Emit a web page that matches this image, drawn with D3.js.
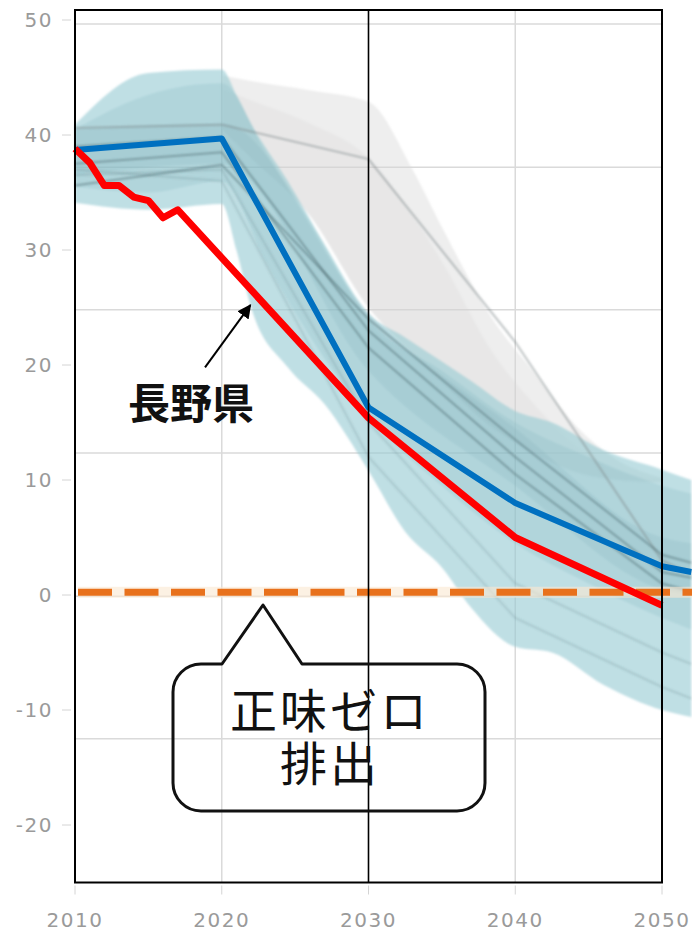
<!DOCTYPE html>
<html>
<head>
<meta charset="utf-8">
<style>
  html, body { margin: 0; padding: 0; background: #fff; }
  svg { display: block; }
  .tick-label { font-family: "DejaVu Sans", sans-serif; font-size: 20px; fill: #9a9a9a; letter-spacing: 1.5px; }
  .note { font-family: "Noto Sans CJK JP", sans-serif; fill: #111; }
  .bubble-text { font-family: "Liberation Sans", "Noto Sans CJK JP", sans-serif; fill: #111; }
</style>
</head>
<body>
<svg id="chart" width="692" height="931"></svg>
<script src="https://d3js.org/d3.v7.min.js"></script>
<script>
// axis labels
const yTicks = [50, 40, 30, 20, 10, 0, -10, -20]
const xTicks = [2010, 2020, 2030, 2040, 2050]
// grid of the underlying chart (does not line up with the labels)
const gridY = [49.65, 37.2, 24.8, 12.35, -0.1, -12.5]
const gridX = [2020, 2040]

// 長野県 (red)
const naganoYears = [2010, 2011, 2012, 2013, 2014, 2015, 2016, 2017, 2030, 2040, 2050]
const naganoValues = [38.8, 37.6, 35.6, 35.6, 34.6, 34.3, 32.8, 33.5, 15.4, 5.0, -0.9]

// blue pathway
const blueYears = [2010, 2020, 2030, 2040, 2050, 2052]
const blueValues = [38.7, 39.7, 16.3, 8.0, 2.5, 2.0]

// teal scenario range, outer envelope
const tealYears = [2010, 2015, 2020, 2021, 2022, 2024.5, 2027, 2030, 2032.5, 2035, 2037, 2040, 2042.5, 2046, 2050, 2052]
const tealHi = [40.9, 45.4, 45.7, 43.5, 41.0, 36.0, 30.5, 24.5, 22.4, 20.3, 18.6, 16.0, 15.0, 12.6, 10.9, 10.0]
const tealLo = [34.1, 33.5, 34.0, 30.0, 25.0, 19.8, 16.6, 10.8, 5.5, 2.4, -1.1, -4.5, -5.0, -7.8, -10.0, -10.6]

// teal inner ranges
const coreYears = [2010, 2015, 2020, 2023, 2026, 2030, 2035, 2040, 2045, 2050, 2052]
const coreHi = [40.5, 43.5, 44.5, 38.5, 32.5, 24.0, 19.5, 15.0, 12.0, 9.5, 8.8]
const coreLo = [35.5, 35.0, 36.0, 29.0, 22.5, 15.5, 9.5, 4.5, 1.0, -2.0, -3.0]
const deepYears = [2010, 2020, 2030, 2040, 2050, 2052]
const deepHi = [40.5, 41.0, 24.5, 14.5, 5.0, 4.5]
const deepLo = [36.5, 37.5, 19.5, 9.5, 0.5, 0.0]

// grey scenario range
const greyYears = [2020, 2022, 2026, 2030, 2033, 2035, 2038.5, 2041, 2044.6, 2047, 2050]
const greyHi = [45.2, 44.7, 43.9, 42.9, 37.0, 32.0, 23.9, 19.8, 14.1, 11.7, 10.2]
const greyMid = [44.0, 43.0, 41.0, 38.0, 33.0, 29.0, 21.0, 17.0, 12.5, 10.8, 10.0]
const greyLo = [40.5, 38.0, 33.0, 25.0, 21.0, 18.5, 14.5, 12.5, 10.5, 10.0, 9.8]

// individual scenario lines
const scenYears = [2010, 2020, 2030, 2040, 2050, 2052]
const scenA = [40.6, 40.9, 37.9, 22.0, 3.0, 1.8]
const scenB = [35.6, 37.4, 24.0, 13.5, 3.5, 2.8]
const scenC = [39.0, 39.8, 23.0, 12.0, 2.0, 1.5]
const scenD = [37.5, 38.5, 21.5, 10.5, 1.0, 0.3]
const scenE = [36.5, 37.0, 15.0, 1.0, -5.0, -6.0]
const scenF = [37.0, 36.0, 12.0, -2.0, -8.0, -9.0]

const netZero = 0.25

const svg = d3.select('#chart')
const x = d3.scaleLinear().domain([2010, 2050]).range([75, 662])
const y = d3.scaleLinear().domain([-25, 50]).range([882.5, 20])
const frameTop = 10, frameBottom = y(-25)

const defs = svg.append('defs')
defs.append('filter').attr('id', 'soft')
  .append('feGaussianBlur').attr('stdDeviation', 1.1)
defs.append('marker').attr('id', 'head')
  .attr('viewBox', '0 0 10 10').attr('refX', 9).attr('refY', 5)
  .attr('markerWidth', 7).attr('markerHeight', 7).attr('markerUnits', 'strokeWidth')
  .attr('orient', 'auto')
  .append('path').attr('d', 'M0,0 L10,5 L0,10 Z').attr('fill', '#000')

// gridlines
svg.append('g').selectAll('line').data(gridY).enter().append('line')
  .attr('x1', x(2010)).attr('x2', x(2050))
  .attr('y1', d => y(d)).attr('y2', d => y(d))
  .attr('stroke', '#dadada').attr('stroke-width', 1.5)
svg.append('g').selectAll('line').data(gridX).enter().append('line')
  .attr('x1', d => x(d)).attr('x2', d => x(d))
  .attr('y1', frameTop).attr('y2', frameBottom)
  .attr('stroke', '#dadada').attr('stroke-width', 1.5)

// ticks + labels
svg.append('g').selectAll('line').data(yTicks).enter().append('line')
  .attr('x1', 62).attr('x2', 71).attr('y1', d => y(d)).attr('y2', d => y(d))
  .attr('stroke', '#d4d4d4').attr('stroke-width', 1)
svg.append('g').selectAll('text').data(yTicks).enter().append('text')
  .attr('class', 'tick-label')
  .attr('x', 53).attr('y', d => y(d)).attr('dy', '0.36em')
  .attr('text-anchor', 'end')
  .text(d => d)
svg.append('g').selectAll('line').data(xTicks).enter().append('line')
  .attr('x1', d => x(d)).attr('x2', d => x(d)).attr('y1', frameBottom + 3).attr('y2', frameBottom + 12)
  .attr('stroke', '#d4d4d4').attr('stroke-width', 1)
svg.append('g').selectAll('text').data(xTicks).enter().append('text')
  .attr('class', 'tick-label')
  .attr('x', d => x(d)).attr('y', 927)
  .attr('text-anchor', 'middle')
  .text(d => d)

// bands
const zip = (ys, hi, lo) => ys.map((yr, i) => ({ yr, hi: hi[i], lo: lo[i] }))
const band = d3.area().x(d => x(d.yr)).y0(d => y(d.lo)).y1(d => y(d.hi)).curve(d3.curveMonotoneX)
const bands = svg.append('g').attr('filter', 'url(#soft)')
bands.append('path').attr('d', band(zip(greyYears, greyHi, greyLo)))
  .attr('fill', '#d6d6d6').attr('opacity', 0.42)
bands.append('path').attr('d', band(zip(greyYears, greyMid, greyLo)))
  .attr('fill', '#d0cfcf').attr('opacity', 0.22)
bands.append('path').attr('d', band(zip(tealYears, tealHi, tealLo)))
  .attr('fill', '#94c9d2').attr('opacity', 0.6)
bands.append('path').attr('d', band(zip(coreYears, coreHi, coreLo)))
  .attr('fill', '#78aeb9').attr('opacity', 0.2)
bands.append('path').attr('d', band(zip(deepYears, deepHi, deepLo)))
  .attr('fill', '#6a9faa').attr('opacity', 0.14)

// scenario lines
const line = d3.line().x(d => x(d[0])).y(d => y(d[1]))
const scen = [scenA, scenB, scenC, scenD, scenE, scenF]
svg.append('g').selectAll('path').data(scen).enter().append('path')
  .attr('d', d => line(scenYears.map((yr, i) => [yr, d[i]])))
  .attr('fill', 'none')
  .attr('stroke', (d, i) => i === 0 ? '#80898b' : '#4f6d73')
  .attr('stroke-opacity', (d, i) => i >= 4 ? 0.2 : 0.5)
  .attr('stroke-width', 2)
  .attr('filter', 'url(#soft)')

// net zero dashed line
svg.append('line')
  .attr('x1', 78).attr('x2', 692).attr('y1', y(netZero)).attr('y2', y(netZero))
  .attr('stroke', '#fbe8d2').attr('stroke-width', 11).attr('opacity', 0.6)
svg.append('line')
  .attr('x1', 78).attr('x2', 692).attr('y1', y(netZero)).attr('y2', y(netZero))
  .attr('stroke', '#e8711c').attr('stroke-width', 7)
  .attr('stroke-dasharray', '34 12.5')

// blue and red
svg.append('path')
  .attr('d', line(blueYears.map((yr, i) => [yr, blueValues[i]])))
  .attr('fill', 'none').attr('stroke', '#0070c0').attr('stroke-width', 6)
  .attr('stroke-linejoin', 'round')
svg.append('path')
  .attr('d', line(naganoYears.map((yr, i) => [yr, naganoValues[i]])))
  .attr('fill', 'none').attr('stroke', '#ff0000').attr('stroke-width', 7)
  .attr('stroke-linejoin', 'round')

// frame and 2030 line
svg.append('rect')
  .attr('x', x(2010)).attr('y', frameTop)
  .attr('width', x(2050) - x(2010)).attr('height', frameBottom - frameTop)
  .attr('fill', 'none').attr('stroke', '#000').attr('stroke-width', 2)
svg.append('line')
  .attr('x1', x(2030)).attr('x2', x(2030)).attr('y1', frameTop).attr('y2', frameBottom)
  .attr('stroke', '#000').attr('stroke-width', 1.6)

// 長野県 label + arrow
svg.append('line')
  .attr('x1', x(2018.86)).attr('y1', y(19.8))
  .attr('x2', x(2021.95)).attr('y2', y(25.2))
  .attr('stroke', '#000').attr('stroke-width', 2)
  .attr('marker-end', 'url(#head)')
svg.append('text').attr('class', 'note')
  .attr('x', x(2017.9)).attr('y', 419)
  .attr('text-anchor', 'middle')
  .attr('font-size', 42).attr('font-weight', 700)
  .text('長野県')

// callout bubble
const b = { left: 173, right: 485, top: 664, bottom: 811, r: 28, baseL: 222, baseR: 302, tipX: 263, tipY: 605 }
const bubble = d3.path()
bubble.moveTo(b.left + b.r, b.top)
bubble.lineTo(b.baseL, b.top)
bubble.lineTo(b.tipX, b.tipY)
bubble.lineTo(b.baseR, b.top)
bubble.lineTo(b.right - b.r, b.top)
bubble.arcTo(b.right, b.top, b.right, b.top + b.r, b.r)
bubble.lineTo(b.right, b.bottom - b.r)
bubble.arcTo(b.right, b.bottom, b.right - b.r, b.bottom, b.r)
bubble.lineTo(b.left + b.r, b.bottom)
bubble.arcTo(b.left, b.bottom, b.left, b.bottom - b.r, b.r)
bubble.lineTo(b.left, b.top + b.r)
bubble.arcTo(b.left, b.top, b.left + b.r, b.top, b.r)
bubble.closePath()
svg.append('path').attr('d', bubble.toString())
  .attr('fill', 'none').attr('stroke', '#111').attr('stroke-width', 3)
  .attr('stroke-linejoin', 'round')

const bubbleLines = ['正味ゼロ', '排出']
svg.append('g').selectAll('text').data(bubbleLines).enter().append('text')
  .attr('class', 'bubble-text')
  .attr('x', 330).attr('y', (d, i) => 728 + i * 53)
  .attr('text-anchor', 'middle')
  .attr('font-size', 47).attr('font-weight', 400)
  .attr('letter-spacing', 3)
  .text(d => d)
</script>
</body>
</html>
